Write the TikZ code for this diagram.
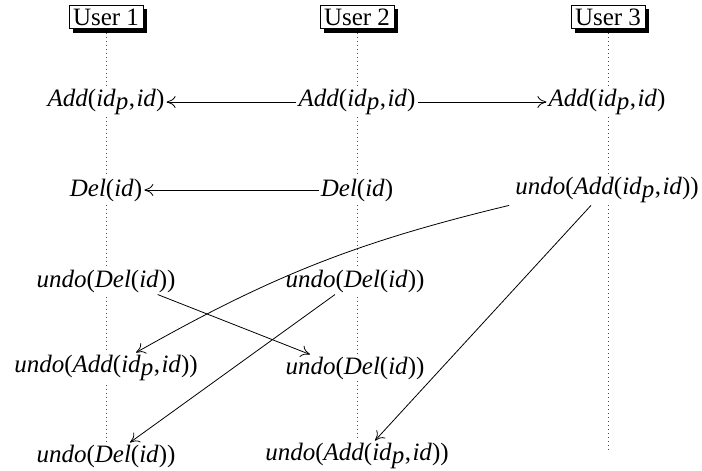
\documentclass[tikz,border=0pt]{standalone}
\usepackage{fontspec}
\setmainfont{Liberation Serif}
\usetikzlibrary{arrows.meta,shadows,backgrounds}
\newcommand\tv[1]{\textit{#1}}
\newcommand\addt{\tv{Add}(\tv{id}$_{\textit{p}}$,\kern1.5pt\tv{id})}
\newcommand\delt{\tv{Del}(\tv{id})}
\begin{document}
\begin{tikzpicture}[x=1pt,y=-1pt,
  userbox/.style={draw,fill=white,line width=0.9pt,inner xsep=4pt,inner ysep=3.5pt,
    font=\fontsize{25}{28}\selectfont,
    drop shadow={shadow xshift=4pt,shadow yshift=-4pt,fill=black,opacity=1}},
  ev/.style={fill=white,inner sep=2pt,font=\fontsize{25}{28}\selectfont},
  life/.style={line width=0.9pt,black!70,dash pattern=on 1pt off 3pt},
  msg/.style={line width=0.8pt,-{To[length=9pt,width=12pt]}}]
\useasboundingbox (0,0) rectangle (702,471);
\node[userbox] (h1) at (106,17) {User 1};
\node[userbox] (h2) at (357,17) {User 2};
\node[userbox] (h3) at (608,17) {User 3};
\coordinate (e1) at (106,452);
\coordinate (e2) at (357,452);
\coordinate (e3) at (608,452);
\begin{scope}[on background layer]
\draw[life] (h1.south) -- (e1);
\draw[life] (h2.south) -- (e2);
\draw[life] (h3.south) -- (e3);
\end{scope}
% row 1
\node[ev] (r1a) at (106,102) {\addt};
\node[ev] (r1b) at (357,102) {\addt};
\node[ev] (r1c) at (607,102) {\addt};
% row 2
\node[ev] (r2a) at (106,190) {\delt};
\node[ev] (r2b) at (357,190) {\delt};
\node[ev] (r2c) at (607,190) {\tv{undo}(\addt)};
% row 3
\node[ev] (r3a) at (106,281) {\tv{undo}(\delt)};
\node[ev] (r3b) at (355,281) {\tv{undo}(\delt)};
% row 4
\node[ev] (r4a) at (106,368) {\tv{undo}(\addt)};
\node[ev] (r4b) at (355,368) {\tv{undo}(\delt)};
% row 5
\node[ev] (r5a) at (106,456) {\tv{undo}(\delt)};
\node[ev] (r5b) at (357,456) {\tv{undo}(\addt)};
% messages
\draw[msg] (r1b) -- (r1a);
\draw[msg] (r1b) -- (r1c);
\draw[msg] (r2b) -- (r2a);
\draw[msg] ([xshift=-4pt]r2c.south west) to[bend right=8] ([xshift=30pt]r4a.north);
\draw[msg] ([xshift=-16pt]r2c.south) -- ([xshift=18pt]r5b.north);
\draw[msg] ([xshift=-20pt]r3a.south east) -- ([xshift=-45pt]r4b.north);
\draw[msg] ([xshift=-20pt]r3b.south) -- ([xshift=24pt]r5a.north);
\end{tikzpicture}
\end{document}
